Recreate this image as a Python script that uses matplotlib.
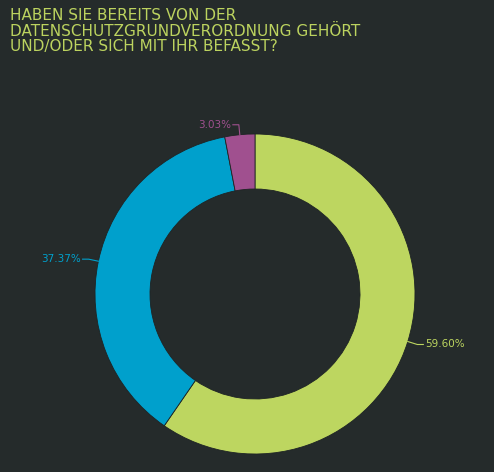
import numpy as np
import matplotlib.pyplot as plt

labels = ["59.60%", "37.37%", "3.03%"]
values = [59.60, 37.37, 3.03]
colors = ["#bdd660", "#00a0cc", "#a0508f"]
bg = "#252b2b"

fig = plt.figure(figsize=(4.94, 4.72), dpi=100, facecolor=bg)
ax = fig.add_axes([0, 0, 1, 1])
ax.set_facecolor(bg)
ax.set_xlim(0, 494)
ax.set_ylim(0, 472)
ax.set_aspect("equal")
ax.axis("off")

cx, cy, r = 255, 178, 160
wedges, _ = ax.pie(values, colors=colors, startangle=90, counterclock=False,
                   center=(cx, cy), radius=r, frame=True,
                   wedgeprops=dict(width=55, edgecolor="#1e2424", linewidth=0.6))
ax.set_xlim(0, 494)
ax.set_ylim(0, 472)
ax.axis("off")

for w, lab, c in zip(wedges, labels, colors):
    ang = np.deg2rad((w.theta1 + w.theta2) / 2)
    x0, y0 = cx + r * np.cos(ang), cy + r * np.sin(ang)
    x1, y1 = cx + (r + 10) * np.cos(ang), cy + (r + 10) * np.sin(ang)
    right = np.cos(ang) >= 0
    x2 = x1 + (6 if right else -6)
    ax.plot([x0, x1, x2], [y0, y1, y1], color=c, lw=0.8)
    ax.text(x2 + (2 if right else -2), y1, lab, color=c, fontsize=7.5,
            ha="left" if right else "right", va="center")

fig.text(10 / 494, 1 - 8 / 472,
         "HABEN SIE BEREITS VON DER\nDATENSCHUTZGRUNDVERORDNUNG GEHÖRT\nUND/ODER SICH MIT IHR BEFASST?",
         color="#bcd35f", fontsize=11, va="top", ha="left", linespacing=1.05)

fig.savefig("out.png", dpi=100, facecolor=bg)
